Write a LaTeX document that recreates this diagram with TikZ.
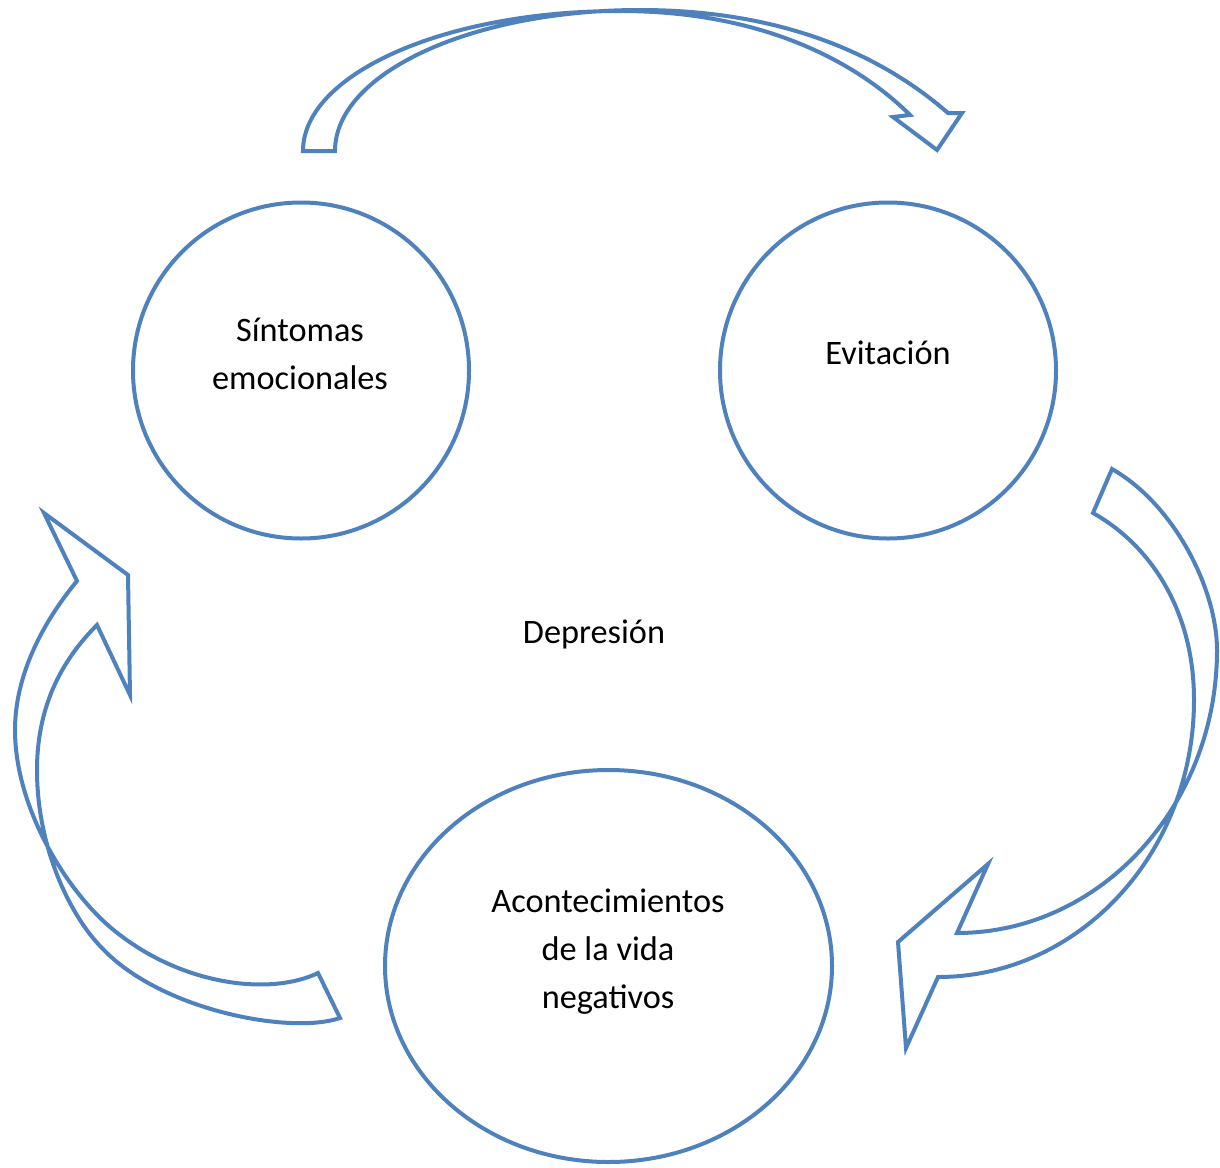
\documentclass[tikz,border=0pt]{standalone}
\usepackage{fontspec}
\setmainfont{Carlito}
\usetikzlibrary{shapes.geometric}
\definecolor{ringblue}{RGB}{79,129,189}
\begin{document}
\begin{tikzpicture}[x=1pt,y=-1pt,
  ring/.style={draw=ringblue, line width=4pt, inner sep=0pt},
  bentarrow/.style={draw=ringblue, line width=4pt, line join=miter, miter limit=10},
  caption/.style={font=\fontsize{34.3}{48}\selectfont, align=center, text=black, inner sep=0pt}]
\useasboundingbox (0,0) rectangle (1220,1167);

% the three stages of the cycle
\node[ring, circle, minimum size=336pt] (sint) at (301,370.5) {};
\node[ring, circle, minimum size=336pt] (evit) at (888,370.5) {};
\node[ring, ellipse, minimum width=447pt, minimum height=392pt] (acon) at (608.5,966) {};

% captions (base anchor = baseline of the last line)
\node[caption, anchor=base] (tsint) at (300,389) {Síntomas\\emocionales};
\node[caption, anchor=base] (tevit) at (888,364) {Evitación};
\node[caption, anchor=base] (tacon) at (608,1008) {Acontecimientos\\de la vida\\negativos};
\node[caption, anchor=base] (tdep) at (594,643) {Depresión};

% upper bent arrow: two twisted edges meeting near the crest
\draw[bentarrow]
  (303,151) .. controls (303,74) and (445,11) .. (620,11)
            .. controls (780,11) and (870,75) .. (910,115)
  -- (893,117) -- (937,150) -- (962,113) -- (948,113)
  .. controls (903,74) and (810,10) .. (640,10)
  .. controls (472,10) and (335,73) .. (335,151)
  -- cycle;

% right bent arrow
\draw[bentarrow]
  (1112,469) .. controls (1175,505) and (1217,590) .. (1217,650)
             .. controls (1217,806) and (1100,933) .. (957,933)
  -- (988,864) -- (898,942) -- (906,1048) -- (938,977)
  .. controls (1079,977) and (1194,853) .. (1194,700)
  .. controls (1194,610) and (1150,545) .. (1093,513)
  -- cycle;

% left bent arrow
\draw[bentarrow]
  (318,973) .. controls (270,996) and (185,985) .. (120,935)
            .. controls (70,898) and (15,810) .. (15,730)
            .. controls (15,670) and (48,616) .. (77,581)
  -- (44,513) -- (128,575) -- (130,695) -- (97,625)
  .. controls (67,655) and (37,700) .. (37,770)
  .. controls (37,850) and (72,918) .. (102,948)
  .. controls (160,1010) and (290,1035) .. (340,1018)
  -- cycle;
\end{tikzpicture}
\end{document}
